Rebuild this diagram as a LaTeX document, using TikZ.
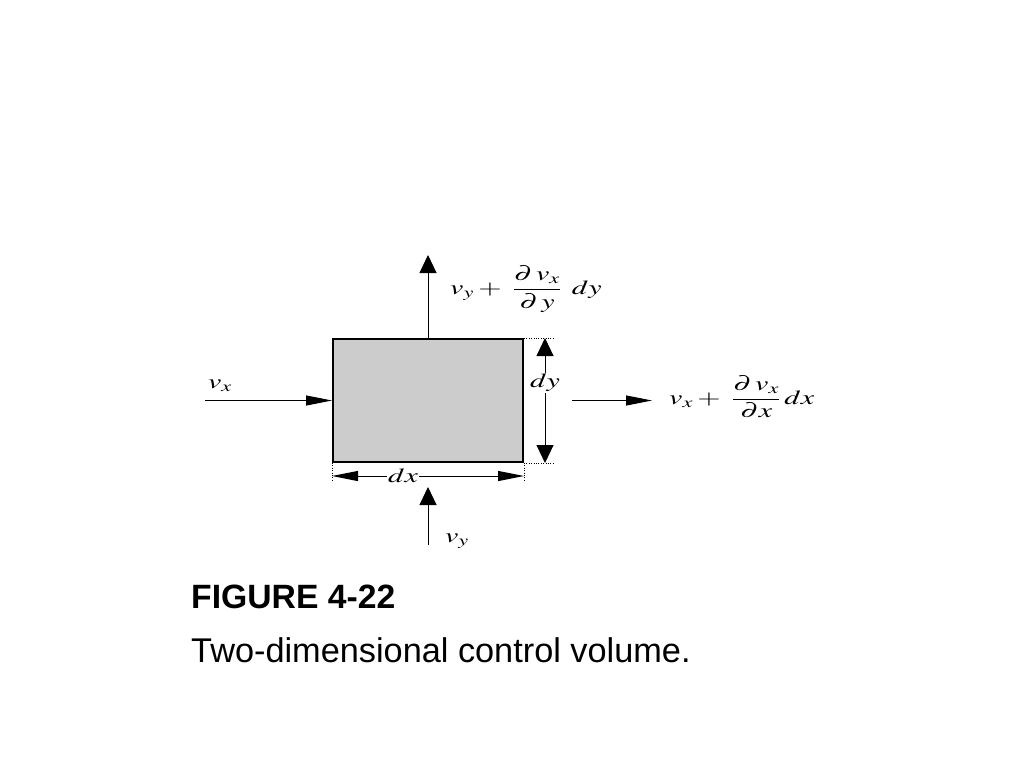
\documentclass[tikz,border=0pt]{standalone}
\usepackage{mathptmx}
\usepackage{fontspec}
\newfontfamily\capfont{Liberation Sans}
\usetikzlibrary{arrows.meta,positioning}
\newcommand{\wmath}[1]{\scalebox{1.5}[1]{$\displaystyle #1$}}
\begin{document}
\begin{tikzpicture}[x=1pt,y=-1pt,
	htip/.tip={Triangle[length=26pt,width=10pt]},
	vtip/.tip={Triangle[length=18pt,width=17pt]},
	flow/.style={line width=1pt},
	lab/.style={font=\fontsize{20}{24}\selectfont, inner sep=1pt}]
	\useasboundingbox (0,0) rectangle (1024,768);
	
	\node[draw, line width=2pt, fill=gray!40, minimum width=190pt, minimum height=123pt, inner sep=0pt] (cv) at (428,400.5) {};
	
	\coordinate (L)  at (205,400.5);
	\coordinate (T)  at (428,255);
	\coordinate (B)  at (428,545);
	\coordinate (Bt) at (428,487);
	\coordinate (R0) at (572,400.5);
	\coordinate (R1) at (652,400.5);
	
	\draw[flow, -htip] (L) -- (cv.west);
	\draw[flow, -vtip] (cv.north) -- (T);
	\draw[flow, -vtip] (B) -- (Bt);
	\draw[flow, -htip] (R0) -- (R1);
	
	\draw[dotted] (cv.north east) -- ++(30,0);
	\draw[dotted] (cv.south east) -- ++(30,0);
	\draw[dotted] (cv.south west) -- ++(0,18);
	\draw[dotted] (cv.south east) -- ++(0,18);
	
	\node[lab] (dy) at (545,383) {\wmath{dy}};
	\node[lab] (dx) at (403,476) {\wmath{dx}};
	\draw[flow, -vtip] (dy) -- (dy |- cv.north east);
	\draw[flow, -vtip] (dy) -- (dy |- cv.south east);
	\draw[flow, -htip] (dx) -- (dx -| cv.south west);
	\draw[flow, -htip] (dx) -- (dx -| cv.south east);
	
	\node[lab] (vxin) at (220,386) {\wmath{v_x}};
	\node[lab] (vyin) at (457,541) {\wmath{v_y}};
	\node[lab, anchor=west] (vyout) at (449,289) {\wmath{v_y +\; \frac{\partial\, v_x}{\partial\, y}\;\, dy}};
	\node[lab, anchor=west] (vxout) at (668,397) {\wmath{v_x +\; \frac{\partial\, v_x}{\partial x}\, dx}};
	
	\node[anchor=base west, font=\capfont\bfseries\fontsize{33.7}{40}\selectfont, inner sep=0pt] (fig) at (191,608) {FIGURE 4-22};
	\node[anchor=base west, font=\capfont\fontsize{34.3}{40}\selectfont, inner sep=0pt] (cap) at (191,662) {Two-dimensional control volume.};
\end{tikzpicture}
\end{document}
